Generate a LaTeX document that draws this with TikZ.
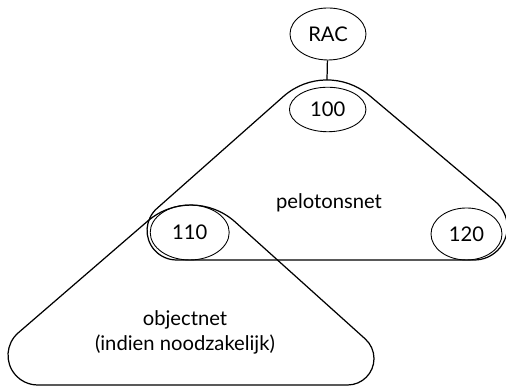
\documentclass[tikz,border=0pt]{standalone}
\usepackage{fontspec}
\setmainfont{Lato}
\usetikzlibrary{shapes.geometric}
\tikzset{
    net/.style={line width=0.7pt, line join=round},
    station/.style={ellipse, draw, line width=0.5pt, inner sep=0pt},
    label/.style={font=\fontsize{11.5}{14.2}\selectfont, align=center},
    link/.style={line width=0.7pt},
}

\begin{document}
\begin{tikzpicture}
    \useasboundingbox (0,0) rectangle (10.12,7.72);

    % pelotonsnet, corners wrapped round 100, 110 and 120
    \draw[net] (3.53,2.52) -- (9.486,2.52)
        arc[start angle=-90, end angle=49.9, radius=0.66] -- (7.386,5.812)
        arc[start angle=49.9, end angle=131.5, radius=1.314] -- (3.14,3.552)
        arc[start angle=131.5, end angle=270, radius=0.59] -- cycle;
    % objectnet, hanging from 110
    \draw[net] (0.754,0.02) -- (6.952,0.02)
        arc[start angle=-90, end angle=48, radius=0.528] -- (4.704,3.28)
        arc[start angle=48.1, end angle=130.8, radius=1.326] -- (0.366,1.064)
        arc[start angle=130.8, end angle=270, radius=0.594] -- cycle;

    \node[station, minimum width=1.52cm, minimum height=1.04cm, label] (rac) at (6.56,7.04) {RAC};
    \node[station, minimum width=1.53cm, minimum height=0.89cm, label] (s100) at (6.554,5.53) {100};
    \node[station, minimum width=1.58cm, minimum height=1.10cm, label] (s110) at (3.794,3.07) {110};
    \node[station, minimum width=1.42cm, minimum height=1.04cm, label] (s120) at (9.33,3.04) {120};
    \coordinate (pelotop) at (6.54,6.12);

    \draw[link] (rac) -- (pelotop);

    \node[label] (peloton) at (6.58,3.66) {pelotonsnet};
    \node[label] (object) at (3.7,1.07) {objectnet\\(indien noodzakelijk)};
\end{tikzpicture}
\end{document}
